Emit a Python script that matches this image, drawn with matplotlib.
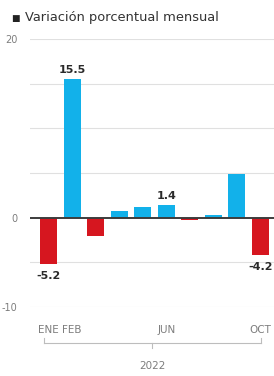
import matplotlib.pyplot as plt
from matplotlib.transforms import blended_transform_factory
from matplotlib.lines import Line2D

# Datos: variación porcentual mensual 2022
meses = ['ENE', 'FEB', 'MAR', 'ABR', 'MAY', 'JUN', 'JUL', 'AGO', 'SEP', 'OCT']
variacion = [-5.2, 15.5, -2.0, 0.8, 1.2, 1.4, -0.3, 0.3, 4.9, -4.2]
meses_visibles = ['ENE', 'FEB', 'JUN', 'OCT']
valores_rotulados = ['ENE', 'FEB', 'JUN', 'OCT']
anio = '2022'

azul = '#12b1ea'
rojo = '#d6161f'
gris = '#7d7d7d'

fig = plt.figure(figsize=(2.74, 3.76), dpi=100)
ax = fig.add_axes([0.1095, 0.1835, 0.8905, 0.7128])

x = list(range(len(meses)))
colores = [azul if v >= 0 else rojo for v in variacion]
ax.bar(x, variacion, width=0.72, color=colores, zorder=2)

ax.set_xlim(-0.785, 9.573)
ax.set_ylim(-10, 20)

# rejilla cada 5 puntos
for g in [-10, -5, 5, 10, 15, 20]:
    ax.axhline(g, color='#e0e0e0', lw=0.8, zorder=1)
ax.axhline(0, color='#3c3c3c', lw=1.4, zorder=3)

ax.set_yticks([20, 0, -10])
ax.set_yticklabels(['20', '0', '-10'])
ax.set_xticks([meses.index(m) for m in meses_visibles])
ax.set_xticklabels(meses_visibles)
ax.tick_params(axis='y', length=0, pad=9, labelsize=7, labelcolor=gris)
ax.tick_params(axis='x', length=0, pad=13, labelsize=7.5, labelcolor=gris)
for s in ax.spines.values():
    s.set_visible(False)

# etiquetas de valor
for m in valores_rotulados:
    i = meses.index(m)
    v = variacion[i]
    if v >= 0:
        ax.annotate(f'{v:.1f}', (i, v), xytext=(0, 3), textcoords='offset points',
                    ha='center', va='bottom', fontsize=8, fontweight='bold',
                    color='#2b2b2b', zorder=4)
    else:
        ax.annotate(f'{v:.1f}', (i, v), xytext=(0, -5), textcoords='offset points',
                    ha='center', va='top', fontsize=8, fontweight='bold',
                    color='#2b2b2b', zorder=4, annotation_clip=False)

# corchete del año
tr = blended_transform_factory(ax.transData, fig.transFigure)
x0, x1 = -0.2, 9.02
xm = (x0 + x1) / 2
yb = 1 - 343 / 376
dy = 5 / 376
for seg in [([x0, x1], [yb, yb]), ([x0, x0], [yb, yb + dy]), ([x1, x1], [yb, yb + dy]),
            ([xm, xm], [yb, yb - dy])]:
    fig.add_artist(Line2D(seg[0], seg[1], transform=tr, color='#bdbdbd', lw=0.8))
fig.text(xm, 1 - 366 / 376, anio, transform=tr, ha='center', va='center',
         fontsize=7.5, color=gris)

# título
fig.text(0.042, 1 - 18 / 376, '\u25A0', fontsize=6.5, color='#222222', va='center')
fig.text(0.092, 1 - 18 / 376, 'Variación porcentual mensual', fontsize=9.4,
         color='#333333', va='center')

fig.savefig('out.png', dpi=100)
